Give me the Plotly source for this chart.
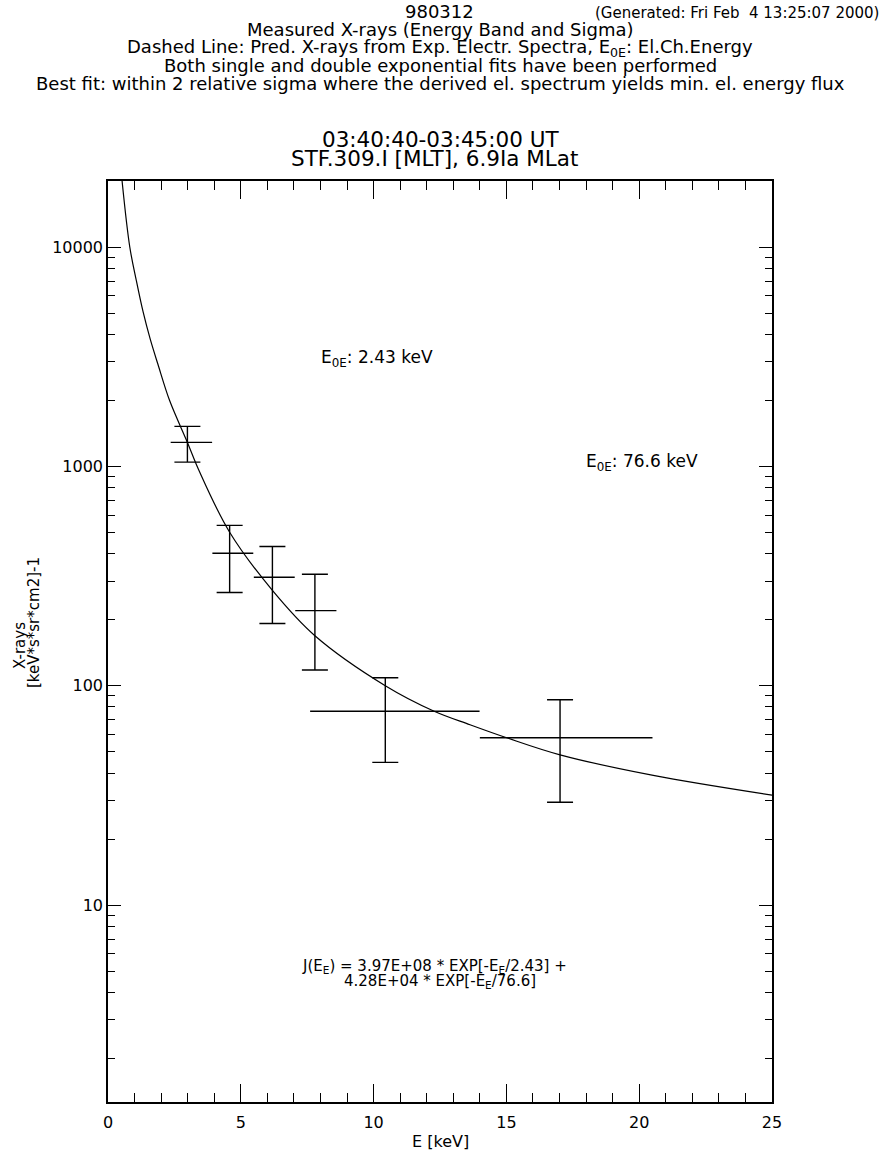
import plotly.graph_objects as go
import math

# ---- data ----
band_center = [2.99, 4.58, 6.19, 7.79, 10.44, 17.02]
band_low = [2.36, 3.93, 5.49, 7.05, 7.61, 14.0]
band_high = [3.92, 5.47, 7.03, 8.60, 13.99, 20.5]
xray_flux = [1286, 402, 312, 220, 76.5, 57.9]
xray_low = [1046, 266, 192, 118, 44.7, 29.4]
xray_high = [1521, 538, 431, 322, 108.8, 86.3]

curve_e = [0.53, 0.82, 1.07, 1.32, 1.59, 1.88, 2.32, 2.99, 3.43, 4.58, 6.19,
           7.79, 10.44, 12.28, 13.63, 15.01, 17.02, 20.53, 25.0]
curve_flux = [20000, 10000, 7000, 5070, 3800, 2920, 1995, 1286, 955, 501, 272,
              169, 100, 76.5, 66.4, 57.9, 48.4, 39.0, 31.7]

y_tick_vals = [10, 100, 1000, 10000]
y_tick_text = ["10", "100", "1000", "10000"]
x_tick_vals = [0, 5, 10, 15, 20, 25]

header_lines = [
    "Measured X-rays (Energy Band and Sigma)",
    "Dashed Line: Pred. X-rays from Exp. Electr. Spectra, E<sub>0E</sub>: El.Ch.Energy",
    "Both single and double exponential fits have been performed",
    "Best fit: within 2 relative sigma where the derived el. spectrum yields min. el. energy flux",
]

W, H = 888, 1153
L, R, T, B = 108, 772, 181, 1102
FONT = "DejaVu Sans, Liberation Sans, sans-serif"


def py(page_y):
    return (B - page_y) / (B - T)


def px(page_x):
    return (page_x - L) / (R - L)


def text_at(text, x, y, size, xanchor="center", angle=0):
    return dict(text=text, x=px(x), y=py(y), xref="paper", yref="paper",
                xanchor=xanchor, yanchor="middle", textangle=angle,
                showarrow=False, font=dict(family=FONT, size=size, color="black"))


fig = go.Figure()

fig.add_trace(go.Scatter(
    x=curve_e, y=curve_flux, mode="lines",
    line=dict(color="black", width=1.2, shape="spline", smoothing=1.0),
    hoverinfo="skip", showlegend=False, cliponaxis=True,
))

fig.add_trace(go.Scatter(
    x=band_center, y=xray_flux, mode="markers",
    marker=dict(size=1, color="rgba(0,0,0,0)"),
    error_x=dict(type="data", symmetric=False,
                 array=[h - c for h, c in zip(band_high, band_center)],
                 arrayminus=[c - l for c, l in zip(band_center, band_low)],
                 color="black", thickness=1.4, width=0),
    error_y=dict(type="data", symmetric=False,
                 array=[h - c for h, c in zip(xray_high, xray_flux)],
                 arrayminus=[c - l for c, l in zip(xray_flux, xray_low)],
                 color="black", thickness=1.4, width=13),
    showlegend=False,
))

minor_y = [m * 10 ** d for d in range(0, 5) for m in range(2, 10) if 1.26 < m * 10 ** d < 20000]

fig.update_xaxes(
    range=[0, 25], tickmode="array", tickvals=x_tick_vals,
    ticks="inside", ticklen=18, tickwidth=1, tickcolor="black",
    showline=True, linecolor="black", linewidth=1.5, mirror="allticks",
    showgrid=False, zeroline=False, automargin=False, ticklabelstandoff=5,
    tickfont=dict(family=FONT, size=16, color="black"),
    minor=dict(ticks="inside", ticklen=9, tickwidth=1, tickcolor="black", dtick=1, showgrid=False),
)
fig.update_yaxes(
    type="log", range=[math.log10(1.265), math.log10(20000)],
    tickmode="array", tickvals=y_tick_vals, ticktext=y_tick_text,
    ticks="inside", ticklen=13, tickwidth=1, tickcolor="black",
    showline=True, linecolor="black", linewidth=1.5, mirror="allticks",
    showgrid=False, zeroline=False, automargin=False,
    tickfont=dict(family=FONT, size=16, color="black"),
    minor=dict(ticks="inside", ticklen=7, tickwidth=1, tickcolor="black",
               tickmode="array", tickvals=minor_y, showgrid=False),
)

ann = []
# header
ann.append(text_at("980312", 439, 12, 18))
ann.append(text_at("(Generated: Fri Feb  4 13:25:07 2000)", 881, 13, 15, xanchor="right"))
for i, line in enumerate(header_lines):
    ann.append(text_at(line, 440, 30 + 17.7 * i, 18))
# plot title
ann.append(text_at("03:40:40-03:45:00 UT", 440, 140, 21.5))
ann.append(text_at("STF.309.I [MLT], 6.9Ia MLat", 434, 158.5, 21.5))
# axis titles
ann.append(text_at("E [keV]", 440, 1141, 16))
ann.append(text_at("X-rays", 20, 646, 15, angle=-90))
ann.append(text_at("[keV*s*sr*cm2]-1", 34, 623, 15, angle=-90))
# in-plot labels
ann.append(text_at("E<sub>0E</sub>: 2.43 keV", 319, 358, 17, xanchor="left"))
ann.append(text_at("E<sub>0E</sub>: 76.6 keV", 584, 462, 17, xanchor="left"))
ann.append(text_at("J(E<sub>E</sub>) = 3.97E+08 * EXP[-E<sub>E</sub>/2.43] +", 434, 967, 15))
ann.append(text_at("4.28E+04 * EXP[-E<sub>E</sub>/76.6]", 440, 981, 15))

fig.update_layout(
    width=W, height=H,
    margin=dict(l=L, r=W - R, t=T, b=H - B, pad=0, autoexpand=False),
    paper_bgcolor="white", plot_bgcolor="white",
    annotations=ann,
    font=dict(family=FONT, color="black"),
)

# remove the browser's default 8px body margin so the figure sits at the window origin
fig.write_html(
    "out.html",
    config={"displayModeBar": False},
    post_script="document.body.style.margin='0';document.body.style.overflow='hidden';",
)
